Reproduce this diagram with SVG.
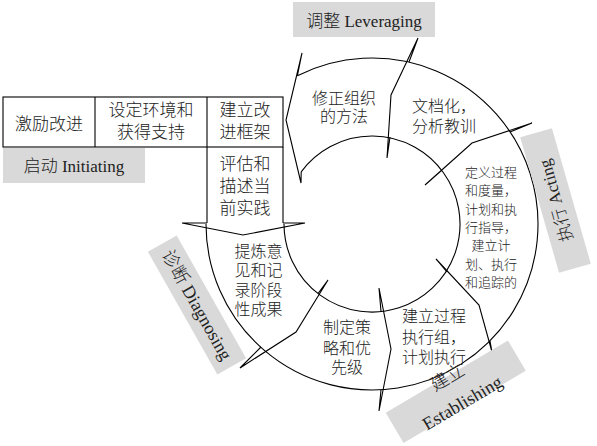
<svg xmlns="http://www.w3.org/2000/svg" width="597" height="446" viewBox="0 0 597 446">
<style>
.ln{fill:none;stroke:#000;stroke-width:1.1;stroke-linejoin:miter}
.box{fill:#fff;stroke:#000;stroke-width:1.1}
.lab{fill:#d9d9d9;stroke:none}
text{font-family:"Liberation Serif","Noto Sans CJK SC",serif;fill:#222;font-weight:300}
.t17{font-size:17px;text-anchor:middle}
.t16{font-size:16px;text-anchor:middle}
.t13{font-size:13px;text-anchor:middle}
.tl{font-size:18px;text-anchor:middle}
</style>
<rect width="597" height="446" fill="#fff"/>
<g id="connectors">
<path class="ln" d="M297.4 75.7 A166 166 0 1 1 206 224"/>
<path class="ln" d="M301.2 171.8 A88 88 0 1 1 284 224"/>
<polyline class="ln" points="297.4,75.7 302,53 286,120 301,183 301.2,171.8"/>
<polyline class="ln" points="409,62 418,38 391,95 387,158 390,137"/>
<polyline class="ln" points="510,132 532,123 472,143 425,185 442,170"/>
<polyline class="ln" points="447,272 436,259 479,305 492,352 490,341"/>
<polyline class="ln" points="381,311.5 379,288 391,349 379,411 381,389.8"/>
<polyline class="ln" points="318,293.5 328,280 296,332 240,368 261,347"/>
<polyline class="ln" points="207,223 182,223 243,235 305,223 283,223"/>
</g>
<g id="table">
<rect class="box" x="3" y="97" width="280" height="50"/>
<line class="ln" x1="95" y1="97" x2="95" y2="147"/>
<line class="ln" x1="207" y1="97" x2="207" y2="223"/>
<line class="ln" x1="283" y1="147" x2="283" y2="223"/>
</g>
<g id="cell-motivate"><text class="t17" x="49" y="129.5">激励改进</text></g>
<g id="cell-context"><text class="t17" x="151" y="116">设定环境和</text><text class="t17" x="151" y="138">获得支持</text></g>
<g id="cell-framework"><text class="t17" x="245" y="116">建立改</text><text class="t17" x="245" y="138">进框架</text></g>
<g id="cell-assess"><text class="t17" x="245" y="169.5">评估和</text><text class="t17" x="245" y="191.5">描述当</text><text class="t17" x="245" y="213.5">前实践</text></g>
<g id="label-initiating"><rect class="lab" x="3" y="148" width="142" height="35"/><text class="t17" x="74" y="172">启动 Initiating</text></g>
<g id="label-leveraging"><rect class="lab" x="293" y="2" width="142" height="35"/><text class="t17" x="364" y="27">调整 Leveraging</text></g>
<g id="label-acting" transform="translate(555.5,200.5) rotate(-106)"><rect class="lab" x="-70.5" y="-16.5" width="141" height="33"/><text class="t17" x="0" y="6">执行 Acting</text></g>
<g id="label-diagnosing" transform="translate(197,305) rotate(60.5)"><rect class="lab" x="-70.5" y="-16.5" width="141" height="33"/><text class="tl" x="0" y="6">诊断 Diagnosing</text></g>
<g id="label-establishing" transform="translate(455.75,391.75) rotate(-30.6)"><rect class="lab" x="-71" y="-17.5" width="142" height="35"/><text class="tl" x="0" y="-10.5">建立</text><text class="tl" x="0" y="19">Establishing</text></g>
<g id="seg-modify"><text class="t16" x="344" y="103.5">修正组织</text><text class="t16" x="344" y="121.5">的方法</text></g>
<g id="seg-document"><text class="t16" x="444" y="111.5">文档化，</text><text class="t16" x="444" y="131.5">分析教训</text></g>
<g id="seg-define"><text class="t13" x="491" y="177">定义过程</text><text class="t13" x="491" y="195.3">和度量，</text><text class="t13" x="491" y="213.6">计划和执</text><text class="t13" x="491" y="232">行指导，</text><text class="t13" x="491" y="250.2">建立计</text><text class="t13" x="491" y="268.5">划、执行</text><text class="t13" x="491" y="286.8">和追踪的</text></g>
<g id="seg-establish"><text class="t16" x="402" y="322" style="text-anchor:start">建立过程</text><text class="t16" x="402" y="343" style="text-anchor:start">执行组，</text><text class="t16" x="402" y="363" style="text-anchor:start">计划执行</text></g>
<g id="seg-strategy"><text class="t16" x="347" y="333">制定策</text><text class="t16" x="347" y="354">略和优</text><text class="t16" x="347" y="373">先级</text></g>
<g id="seg-refine"><text class="t16" x="258.5" y="257">提炼意</text><text class="t16" x="258.5" y="276">见和记</text><text class="t16" x="258.5" y="295.5">录阶段</text><text class="t16" x="258.5" y="315">性成果</text></g>
</svg>
